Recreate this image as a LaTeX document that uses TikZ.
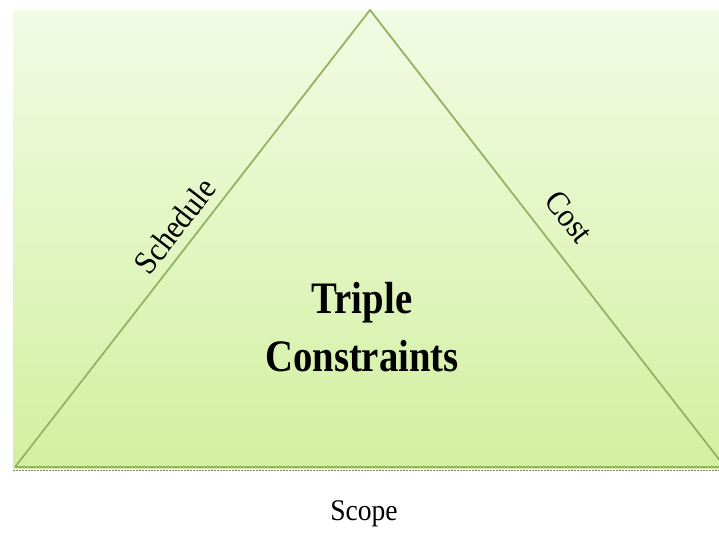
\documentclass[tikz,border=0pt]{standalone}
\usepackage{fontspec}
\setmainfont{Liberation Serif}
\definecolor{bgtop}{RGB}{242,251,228}
\definecolor{bgbot}{RGB}{210,240,160}
\definecolor{edge}{RGB}{150,178,100}
\definecolor{dotc}{RGB}{120,130,110}
\begin{document}
\begin{tikzpicture}[x=1pt,y=-1pt,
  lbl/.style={font=\fontsize{33}{36}\selectfont, inner sep=0pt},
  ttl/.style={font=\bfseries\fontsize{45}{58}\selectfont, align=center, inner sep=0pt}]
\useasboundingbox (0,0) rectangle (719,533);
\fill[top color=bgtop, bottom color=bgbot] (13,10) rectangle (719,468);
\coordinate (apex) at (370,10);
\coordinate (bl) at (15,467);
\coordinate (br) at (725,467);
\begin{scope}
\clip (0,0) rectangle (719,533);
\draw[edge, line width=1.8pt] (bl) -- (apex) -- (br);
\draw[edge, line width=2pt] (bl) -- (br);
\end{scope}
\draw[dotc, line width=1.5pt, dash pattern=on 1.5pt off 1.5pt] (13,470.5) -- (719,470.5);
\node[lbl, rotate=52.2, xscale=0.92] (sched) at (175,226) {Schedule};
\node[lbl, rotate=-52.2, xscale=0.92] (cost) at (569,217) {Cost};
\node[ttl, xscale=0.86] (title) at (362,327) {Triple\\Constraints};
\node[font=\fontsize{30}{34}\selectfont, inner sep=0pt, xscale=0.92] (scope) at (364,514) {Scope};
\end{tikzpicture}
\end{document}
